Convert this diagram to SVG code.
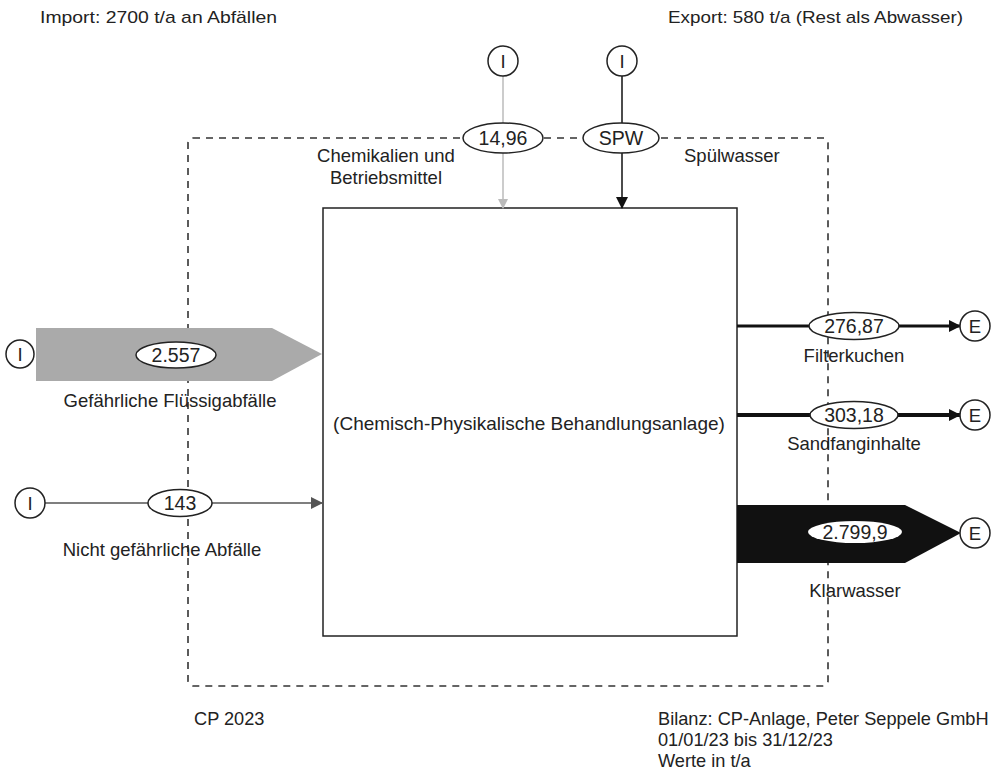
<svg xmlns="http://www.w3.org/2000/svg" width="1004" height="769" viewBox="0 0 1004 769">
<style>
text{font-family:"Liberation Sans",Arial,sans-serif;font-size:18.5px;fill:#222}
.c{text-anchor:middle}
.v{font-size:19.5px}
.b{font-size:18.2px}
.node{fill:#fff;stroke:#222;stroke-width:1.5}
.lbl{fill:#fff;stroke:#222;stroke-width:1.5}
</style>
<defs>
<marker id="ag" markerWidth="10" markerHeight="10" refX="9" refY="5" orient="auto" markerUnits="userSpaceOnUse"><path d="M0,0 L10,5 L0,10 z" fill="#bbb"/></marker>
<marker id="ab" markerWidth="12" markerHeight="12" refX="11" refY="6" orient="auto" markerUnits="userSpaceOnUse"><path d="M0,0 L12,6 L0,12 z" fill="#111"/></marker>
<marker id="ad" markerWidth="12" markerHeight="12" refX="11" refY="6" orient="auto" markerUnits="userSpaceOnUse"><path d="M0,0 L12,6 L0,12 z" fill="#555"/></marker>
</defs>
<rect width="1004" height="769" fill="#fff"/>
<text x="40" y="23" textLength="237" lengthAdjust="spacingAndGlyphs" style="font-size:17px">Import: 2700 t/a  an Abfällen</text>
<text x="668" y="23" textLength="295" lengthAdjust="spacingAndGlyphs" style="font-size:17px">Export: 580 t/a (Rest als Abwasser)</text>
<g id="boundary"><rect x="188" y="138" width="640" height="548" rx="5" fill="none" stroke="#333" stroke-width="1.6" stroke-dasharray="7,6"/></g>
<g id="process"><rect x="323" y="208" width="414" height="428" fill="#fff" stroke="#222" stroke-width="1.5"/>
<text class="c" x="529" y="430" style="font-size:19px">(Chemisch-Physikalische Behandlungsanlage)</text></g>
<g id="connectors">
<polygon points="36,328 272,328 322,354 272,381 36,381" fill="#aaa"/>
<line x1="45" y1="503" x2="322" y2="503" stroke="#555" stroke-width="1.5" marker-end="url(#ad)"/>
<line x1="503" y1="76" x2="503" y2="208" stroke="#bbb" stroke-width="1.5" marker-end="url(#ag)"/>
<line x1="622" y1="76" x2="622" y2="208" stroke="#111" stroke-width="1.5" marker-end="url(#ab)"/>
<line x1="737" y1="326" x2="960" y2="326" stroke="#111" stroke-width="3.2" marker-end="url(#ab)"/>
<line x1="737" y1="415" x2="960" y2="415" stroke="#111" stroke-width="4" marker-end="url(#ab)"/>
<polygon points="737,505 905,505 961,533 905,563 737,563" fill="#111"/>
</g>
<g id="in1"><circle class="node" cx="20" cy="354" r="14"/><text class="c" x="20" y="361">I</text></g>
<g id="in2"><circle class="node" cx="30" cy="503" r="15"/><text class="c" x="30" y="510">I</text></g>
<g id="in3"><circle class="node" cx="503" cy="61" r="15"/><text class="c" x="503" y="68">I</text></g>
<g id="in4"><circle class="node" cx="622" cy="61" r="15"/><text class="c" x="622" y="68">I</text></g>
<g id="out1"><circle class="node" cx="975" cy="326" r="15"/><text class="c" x="975" y="333">E</text></g>
<g id="out2"><circle class="node" cx="975" cy="415" r="15"/><text class="c" x="975" y="422">E</text></g>
<g id="out3"><circle class="node" cx="975" cy="533" r="15"/><text class="c" x="975" y="540">E</text></g>
<g id="labels">
<ellipse class="lbl" cx="176" cy="355" rx="40" ry="13"/><text class="c v" x="176" y="362">2.557</text>
<ellipse class="lbl" cx="180" cy="503" rx="32" ry="13.5"/><text class="c v" x="180" y="510">143</text>
<ellipse class="lbl" cx="503" cy="138" rx="40" ry="15"/><text class="c v" x="503" y="145">14,96</text>
<ellipse class="lbl" cx="621" cy="138" rx="38" ry="15"/><text class="c v" x="621" y="145">SPW</text>
<ellipse class="lbl" cx="854" cy="326" rx="45" ry="13.5"/><text class="c v" x="854" y="333">276,87</text>
<ellipse class="lbl" cx="854" cy="415" rx="44" ry="13.5"/><text class="c v" x="854" y="422">303,18</text>
<ellipse cx="855" cy="532" rx="47" ry="11" fill="#fff"/><text class="c v" x="855" y="539">2.799,9</text>
<text class="c" x="170" y="407">Gefährliche Flüssigabfälle</text>
<text class="c" x="162" y="556">Nicht gefährliche Abfälle</text>
<text class="c" x="386" y="162">Chemikalien und</text>
<text class="c" x="386" y="184">Betriebsmittel</text>
<text x="684" y="162">Spülwasser</text>
<text class="c" x="854" y="362">Filterkuchen</text>
<text class="c" x="854" y="450">Sandfanginhalte</text>
<text class="c" x="855" y="597">Klarwasser</text>
<text class="b" x="194" y="725">CP 2023</text>
<text class="b" x="658" y="725">Bilanz: CP-Anlage, Peter Seppele GmbH</text>
<text class="b" x="658" y="746">01/01/23 bis 31/12/23</text>
<text class="b" x="658" y="767">Werte in t/a</text>
</g>
</svg>
